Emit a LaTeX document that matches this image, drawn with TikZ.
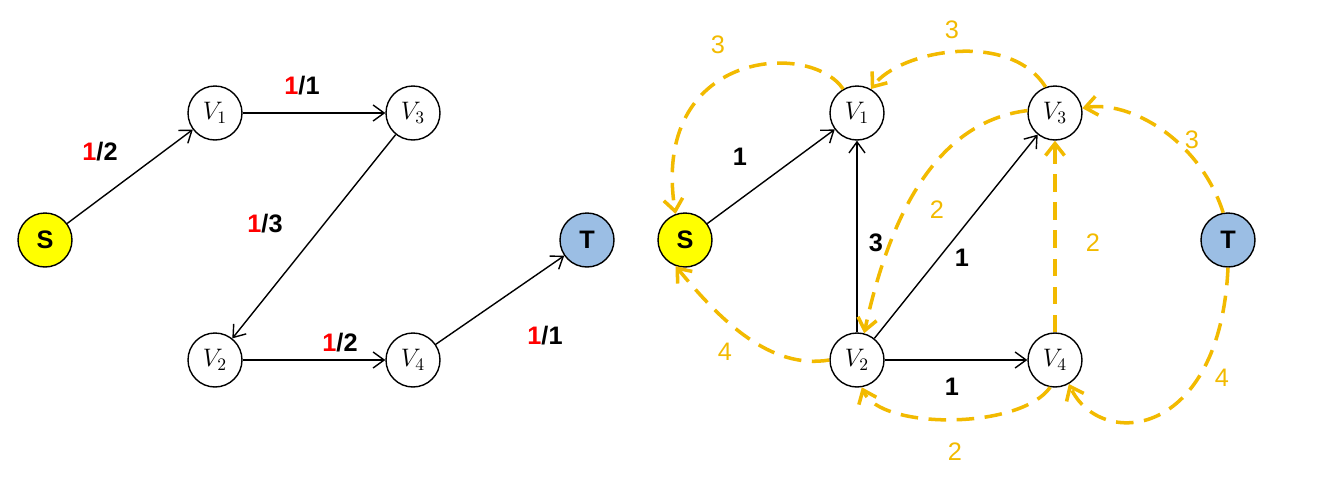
\documentclass[tikz,border=0pt]{standalone}
\usepackage{fontspec}
\usetikzlibrary{arrows.meta}
\newfontfamily\lbl{Liberation Sans}
\definecolor{goldline}{RGB}{242,186,0}
\definecolor{sfill}{RGB}{255,255,0}
\definecolor{tfill}{RGB}{155,190,228}
\begin{document}
\begin{tikzpicture}[x=0.02cm, y=-0.02cm, node_style/.style={circle,draw=black,thick,fill=white,minimum size=1.08cm,inner sep=0pt,font=\Large},edge_style/.style={draw=black, thick,-{Straight Barb[length=2.2mm,width=3.2mm]}},res_style/.style={draw=goldline,line width=2pt,dash pattern=on 10pt off 6pt,-{Straight Barb[length=2.4mm,width=3.8mm]}},num_style/.style={font=\lbl\bfseries\Large},res_num/.style={font=\lbl\Large,text=goldline}]
      \useasboundingbox (0,0) rectangle (1343,491);
      \draw
        (45, 240) node[node_style,fill=sfill,font=\lbl\bfseries\Large] (S){S}
        (215, 113) node[node_style] (V1){$V_1$}
        (413, 113) node[node_style] (V3){$V_3$}
        (215, 360) node[node_style] (V2){$V_2$}
        (413, 360) node[node_style] (V4){$V_4$}
        (587, 240) node[node_style,fill=tfill,font=\lbl\bfseries\Large] (T){T}
        (685, 240) node[node_style,fill=sfill,font=\lbl\bfseries\Large] (rS){S}
        (857, 113) node[node_style] (rV1){$V_1$}
        (1055, 113) node[node_style] (rV3){$V_3$}
        (857, 360) node[node_style] (rV2){$V_2$}
        (1055, 360) node[node_style] (rV4){$V_4$}
        (1228, 240) node[node_style,fill=tfill,font=\lbl\bfseries\Large] (rT){T};
      % flow network
      \draw[edge_style] (S) to (V1);
      \draw[edge_style] (V1) to (V3);
      \draw[edge_style] (V3) to (V2);
      \draw[edge_style] (V2) to (V4);
      \draw[edge_style] (V4) to (T);
      \node[num_style] at (100,152) {\textcolor{red}{1}/2};
      \node[num_style] at (302,86) {\textcolor{red}{1}/1};
      \node[num_style] at (265,224) {\textcolor{red}{1}/3};
      \node[num_style] at (340,343) {\textcolor{red}{1}/2};
      \node[num_style] at (545,336) {\textcolor{red}{1}/1};
      % residual network
      \draw[edge_style] (rS) to (rV1);
      \draw[edge_style] (rV2) to (rV1);
      \draw[edge_style] (rV2) to (rV3);
      \draw[edge_style] (rV2) to (rV4);
      \node[num_style] at (740,157) {1};
      \node[num_style] at (876,243) {3};
      \node[num_style] at (962,258) {1};
      \node[num_style] at (952,387) {1};
      \draw[res_style] (rV1.120) .. controls (810,40) and (650,50) .. (rS.110);
      \draw[res_style] (rV3.110) .. controls (1010,30) and (900,50) .. (rV1.60);
      \draw[res_style] (rV3.175) .. controls (950,120) and (895,190) .. (rV2.75);
      \draw[res_style] (rV4) to (rV3);
      \draw[res_style] (rT.100) .. controls (1200,140) and (1130,100) .. (rV3.10);
      \draw[res_style] (rV2.180) .. controls (770,370) and (720,320) .. (rS.250);
      \draw[res_style] (rV4.260) .. controls (1020,430) and (880,430) .. (rV2.280);
      \draw[res_style] (rT.270) .. controls (1220,440) and (1100,450) .. (rV4.300);
      \node[res_num] at (718,45) {3};
      \node[res_num] at (952,30) {3};
      \node[res_num] at (937,210) {2};
      \node[res_num] at (1093,243) {2};
      \node[res_num] at (1192,140) {3};
      \node[res_num] at (725,352) {4};
      \node[res_num] at (955,452) {2};
      \node[res_num] at (1222,378) {4};
    \end{tikzpicture}
\end{document}
